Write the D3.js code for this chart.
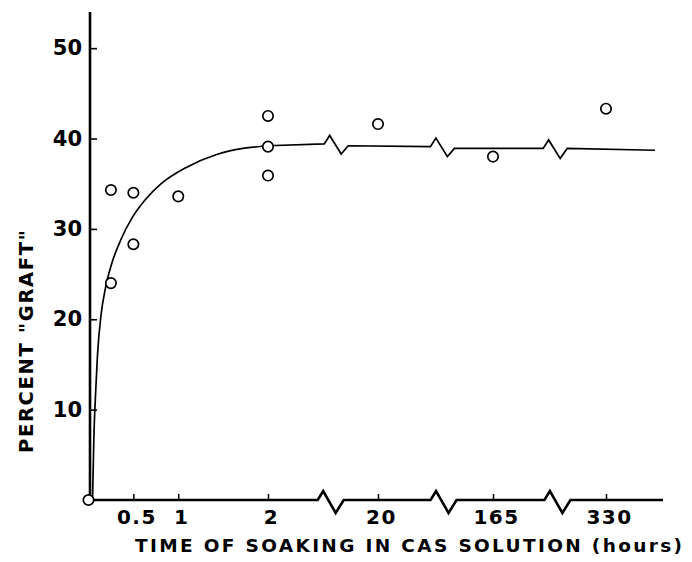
<!DOCTYPE html>
<html>
<head>
<meta charset="utf-8">
<script src="https://cdn.jsdelivr.net/npm/d3@7"></script>
<style>
  body { margin: 0; background: #fff; }
  svg { display: block; }
  text { font-family: "DejaVu Sans", sans-serif; font-weight: bold; fill: #000; }
</style>
</head>
<body>
<svg id="chart" width="692" height="562"></svg>
<script>
// Measured samples: soaking time (hours) and percent "graft"
const sampleHours   = [0, 0.25, 0.25, 0.5, 0.5, 1, 2, 2, 2, 20, 165, 330];
const samplePercent = [0, 34.3, 24.0, 34.0, 28.3, 33.6, 42.5, 39.1, 35.9, 41.6, 38.0, 43.3];

// Smooth uptake curve over the first two hours
const curveHours   = [0.045, 0.06, 0.08, 0.10, 0.14, 0.19, 0.26, 0.36, 0.49, 0.63, 0.81, 1.09, 1.42, 1.72, 1.94, 2];
const curvePercent = [0, 7.0, 12.0, 16.0, 20.5, 23.5, 26.2, 28.8, 31.3, 33.2, 35.0, 36.8, 38.2, 38.9, 39.15, 39.2];

// Plateau level of the curve at the start and end of each axis section
const plateauStart = [39.2, 39.2, 38.9, 38.9];
const plateauEnd   = [39.4, 39.1, 38.9, 38.7];

// Axis ticks
const xTickValues = [0.5, 1, 2, 20, 165, 330];
const xTickLabels = ["0.5", "1", "2", "20", "165", "330"];
const yTickValues = [10, 20, 30, 40, 50];

const xTitle = "TIME OF SOAKING IN CAS SOLUTION (hours)";
const yTitle = "PERCENT \"GRAFT\"";

// ---- layout ----
const svg = d3.select("#chart");
const axisY0 = 500;       // baseline (0 %)
const axisX0 = 90;        // vertical axis line
const axisXEnd = 663;     // right end of the time axis
const curveXEnd = 655;    // right end of the plateau line

// Broken time axis: linear up to 2 h, then one section per long soak
const x = d3.scaleLinear()
  .domain([0, 2, 20, 165, 330])
  .range([88.5, 268, 378, 493, 606]);

const y = d3.scaleLinear()
  .domain([0, 54])
  .range([axisY0, 12]);

// Centres of the axis breaks, as a fraction of the gap between neighbouring ticks
const breakPairs = [[2, 20], [20, 165], [165, 330]];
const axisBreakFrac = [0.57, 0.57, 0.57];
const curveBreakFrac = [0.62, 0.56, 0.55];
const axisBreaks = breakPairs.map((p, i) => x(p[0]) + axisBreakFrac[i] * (x(p[1]) - x(p[0])));
const curveBreaks = breakPairs.map((p, i) => x(p[0]) + curveBreakFrac[i] * (x(p[1]) - x(p[0])));

// ---- time axis line with zigzag breaks ----
const ax = d3.path();
ax.moveTo(89, axisY0);
axisBreaks.forEach(c => {
  ax.lineTo(c - 13, axisY0);
  ax.lineTo(c - 7.5, axisY0 - 9);
  ax.lineTo(c + 5, axisY0 + 13);
  ax.lineTo(c + 13, axisY0);
});
ax.lineTo(axisXEnd, axisY0);
svg.append("path")
  .attr("d", ax.toString())
  .attr("fill", "none")
  .attr("stroke", "#000")
  .attr("stroke-width", 2.6)
  .attr("stroke-linejoin", "miter");

// vertical axis line
svg.append("line")
  .attr("x1", axisX0).attr("x2", axisX0)
  .attr("y1", y.range()[1]).attr("y2", axisY0 + 1)
  .attr("stroke", "#000")
  .attr("stroke-width", 2.6);

// ---- ticks and tick labels ----
const xAxis = d3.axisBottom(x)
  .tickValues(xTickValues)
  .tickFormat((d, i) => xTickLabels[i])
  .tickSize(-6)
  .tickPadding(10);

const gx = svg.append("g")
  .attr("transform", `translate(0,${axisY0})`)
  .call(xAxis);
gx.select(".domain").remove();
gx.selectAll(".tick line").attr("stroke", "#000").attr("stroke-width", 1.5);
gx.selectAll(".tick text")
  .attr("font-size", 20)
  .attr("letter-spacing", 1.5)
  .attr("dx", 3)
  .style("font-family", "DejaVu Sans, sans-serif")
  .style("font-weight", "bold");

const yAxis = d3.axisLeft(y)
  .tickValues(yTickValues)
  .tickSize(-7)
  .tickPadding(8);

const gy = svg.append("g")
  .attr("transform", `translate(${axisX0},0)`)
  .call(yAxis);
gy.select(".domain").remove();
gy.selectAll(".tick line").attr("stroke", "#000").attr("stroke-width", 1.6);
gy.selectAll(".tick text")
  .attr("font-size", 21)
  .style("font-family", "DejaVu Sans, sans-serif")
  .style("font-weight", "bold");

// ---- uptake curve ----
const line = d3.line()
  .x(d => x(d[0]))
  .y(d => y(d[1]))
  .curve(d3.curveMonotoneX);

svg.append("path")
  .datum(curveHours.map((h, i) => [h, curvePercent[i]]))
  .attr("d", line)
  .attr("fill", "none")
  .attr("stroke", "#000")
  .attr("stroke-width", 1.7);

// plateau with matching zigzag breaks
const pl = d3.path();
pl.moveTo(x(2), y(curvePercent[curvePercent.length - 1]));
curveBreaks.forEach((c, i) => {
  const yA = y(plateauEnd[i]);
  const yB = y(plateauStart[i + 1]);
  pl.lineTo(c - 12, yA);
  pl.lineTo(c - 6.5, yA - 8.5);
  pl.lineTo(c + 5, yA + 10);
  pl.lineTo(c + 12, yB);
});
pl.lineTo(curveXEnd, y(plateauEnd[plateauEnd.length - 1]));
svg.append("path")
  .attr("d", pl.toString())
  .attr("fill", "none")
  .attr("stroke", "#000")
  .attr("stroke-width", 1.7)
  .attr("stroke-linejoin", "miter");

// ---- sample points ----
svg.append("g")
  .selectAll("circle")
  .data(sampleHours.map((h, i) => [h, samplePercent[i]]))
  .join("circle")
  .attr("cx", d => x(d[0]))
  .attr("cy", d => y(d[1]))
  .attr("r", 5.2)
  .attr("fill", "#fff")
  .attr("stroke", "#000")
  .attr("stroke-width", 1.7);

// ---- axis titles ----
svg.append("text")
  .attr("x", 135)
  .attr("y", 552)
  .attr("font-size", 18.5)
  .attr("textLength", 547)
  .attr("lengthAdjust", "spacing")
  .text(xTitle);

svg.append("text")
  .attr("transform", "translate(33,341.5) rotate(-90)")
  .attr("text-anchor", "middle")
  .attr("font-size", 19.5)
  .attr("textLength", 223)
  .attr("lengthAdjust", "spacing")
  .text(yTitle);
</script>
</body>
</html>
